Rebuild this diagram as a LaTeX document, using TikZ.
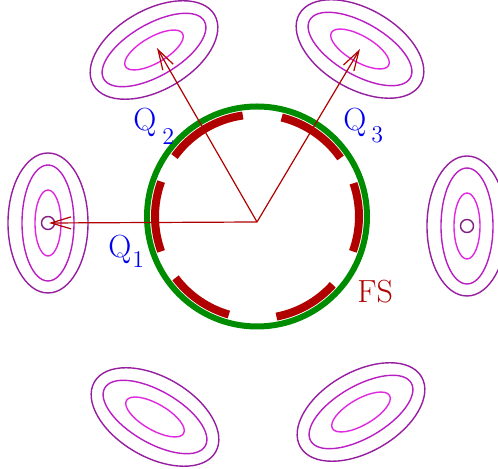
\documentclass[tikz,border=0pt]{standalone}
\usetikzlibrary{arrows.meta}
\definecolor{fsred}{RGB}{176,0,0}
\definecolor{fsgreen}{RGB}{0,140,0}
\definecolor{qblue}{RGB}{0,0,240}
\definecolor{contout}{RGB}{150,30,160}
\definecolor{contmid}{RGB}{185,30,195}
\definecolor{contin}{RGB}{225,40,225}
\definecolor{spot}{RGB}{130,30,130}
% three contours of one pocket: centre x, centre y, angle of long axis
\newcommand{\pocket}[3]{%
  \begin{scope}[shift={(#1,#2)},rotate=#3]
    \draw[contour,contout] (0,0) ellipse [x radius=70,y radius=40];
    \draw[contour,contmid] (0,0) ellipse [x radius=58,y radius=26];
    \draw[contour,contin] (0,0) ellipse [x radius=33,y radius=13];
  \end{scope}}
\begin{document}
\begin{tikzpicture}[x=0.5pt,y=0.5pt,
  contour/.style={line width=0.7pt},
  qvec/.style={fsred,line width=0.6pt,-{Straight Barb[length=10pt,width=6pt]}},
  fsarc/.style={fsred,line width=4pt},
  qlabel/.style={qblue,font=\fontsize{16}{16}\selectfont,anchor=base west,inner sep=0pt}]
\useasboundingbox (-257,-247) rectangle (241,222);
\coordinate (o) at (0,0);
\coordinate (k1) at (-208,-1);
\coordinate (k2) at (-100,174);
\coordinate (k3) at (103,173);
\pocket{-209}{-1}{90}
\pocket{210}{-4}{90}
\pocket{-103}{172}{30}
\pocket{103}{173}{-30}
\pocket{-102}{-195}{-30}
\pocket{104}{-190}{30}
\draw[spot,contour] (-209,-1) circle [radius=6.5];
\draw[spot,contour] (210,-4) circle [radius=6.5];
% Fermi surface with the nested pieces
\begin{scope}[shift={(0,5.5)}]
\draw[fsgreen,line width=3pt] (0,0) circle [radius=110];
\draw[fsarc] (-20:102) arc [start angle=-20,end angle=19,radius=102];
\draw[fsarc] (35:102) arc [start angle=35,end angle=76,radius=102];
\draw[fsarc] (98:102) arc [start angle=98,end angle=144,radius=102];
\draw[fsarc] (160:102) arc [start angle=160,end angle=200,radius=102];
\draw[fsarc] (217:102) arc [start angle=217,end angle=254,radius=102];
\draw[fsarc] (281:102) arc [start angle=281,end angle=318,radius=102];
\end{scope}
\draw[qvec] (o) -- (k1);
\draw[qvec] (o) -- (k2);
\draw[qvec] (o) -- (k3);
\node[qlabel] (q1) at (-149,-36) {Q\hspace{0.5pt}\raisebox{-5pt}{\fontsize{12}{12}\selectfont 1}};
\node[qlabel] (q2) at (-124,91) {Q\hspace{3pt}\raisebox{-7pt}{\fontsize{12}{12}\selectfont 2}};
\node[qlabel] (q3) at (86,91) {Q\hspace{2.5pt}\raisebox{-6pt}{\fontsize{12}{12}\selectfont 3}};
\node[qlabel,fsred] (fs) at (100,-81) {FS};
\end{tikzpicture}
\end{document}
